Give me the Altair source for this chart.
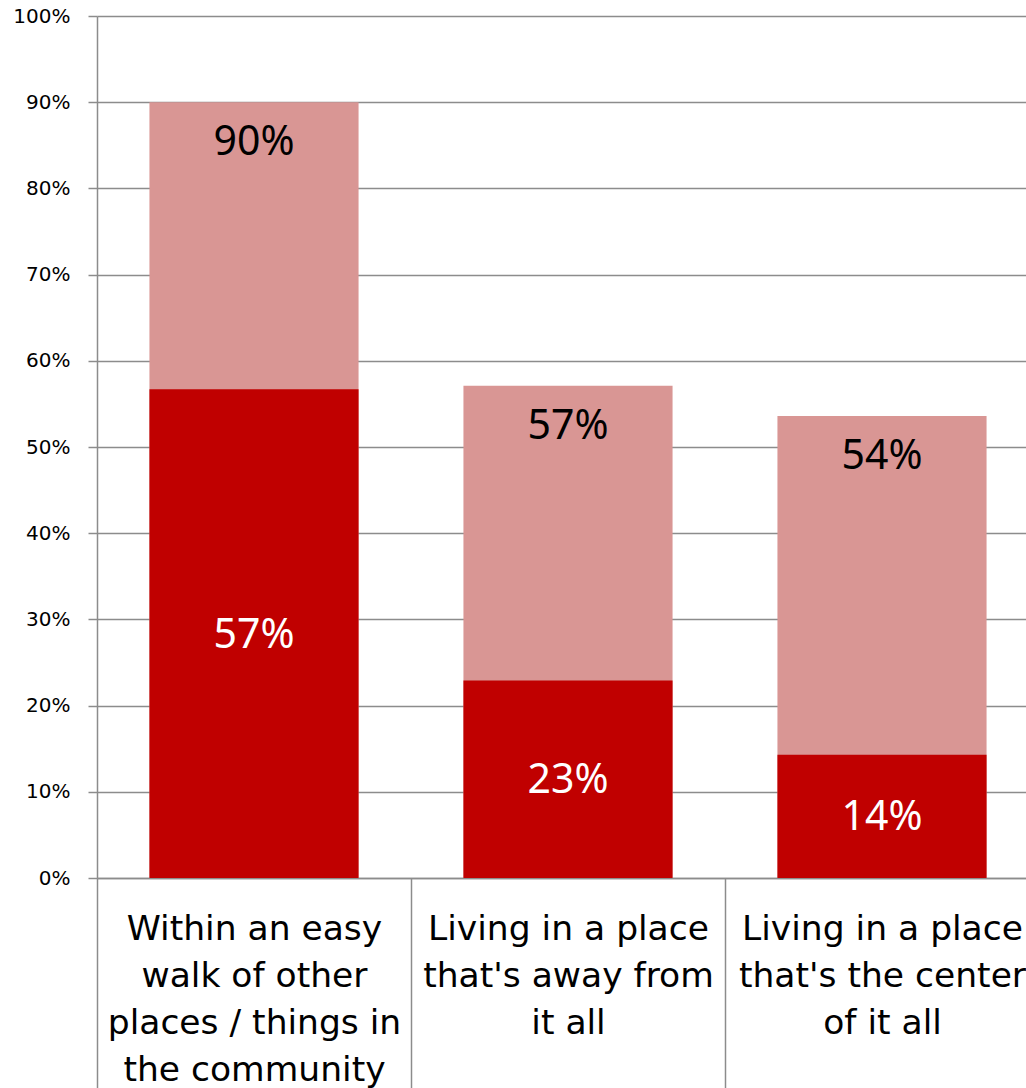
import altair as alt
import pandas as pd

category_lines = [
    ["Within an easy", "walk of other", "places / things in", "the community"],
    ["Living in a place", "that's away from", "it all"],
    ["Living in a place", "that's the center", "of it all"],
]
total_values = [0.900, 0.571, 0.536]
core_values = [0.567, 0.229, 0.143]
total_labels = ["90%", "57%", "54%"]
core_labels = ["57%", "23%", "14%"]

categories = ["|".join(lines) for lines in category_lines]
df = pd.DataFrame({
    "category": categories,
    "total": total_values,
    "core": core_values,
    "total_label": total_labels,
    "core_label": core_labels,
})
df["core_mid"] = df["core"] / 2

GRAY = "#8c8c8c"
FONT = "Noto Sans"

x = alt.X(
    "category:N",
    sort=categories,
    title=None,
    scale=alt.Scale(range=[0, 942], paddingInner=0, paddingOuter=0),
    axis=alt.Axis(
        labelExpr="split(datum.label, '|')",
        labelAngle=0,
        labelFont="DejaVu Sans",
        labelFontSize=34.5,
        labelColor="#000000",
        labelLineHeight=47,
        labelBaseline="top",
        labelPadding=-176,
        labelLimit=0,
        tickBand="extent",
        tickSize=210,
        tickColor=GRAY,
        tickWidth=1.5,
        domainColor=GRAY,
        domainWidth=1.5,
    ),
)

y_axis = alt.Axis(
    format=".0%",
    values=[i / 10 for i in range(11)],
    title=None,
    labelFont="DejaVu Sans",
    labelFontSize=20,
    labelColor="#000000",
    labelPadding=18,
    tickSize=9,
    tickColor=GRAY,
    tickWidth=1.5,
    domainColor=GRAY,
    domainWidth=1.5,
    gridColor=GRAY,
    gridWidth=1.5,
)

base = alt.Chart(df)
bar_width = alt.RelativeBandSize(0.666)

light = base.mark_bar(color="#D99694", width=bar_width).encode(
    x=x,
    y=alt.Y("total:Q", scale=alt.Scale(domain=[0, 1], nice=False), axis=y_axis),
)
dark = base.mark_bar(color="#C00000", width=bar_width).encode(x=x, y=alt.Y("core:Q"))

light_text = base.mark_text(
    font=FONT, fontSize=41, color="#000000", baseline="middle", dy=41
).encode(x=x, y=alt.Y("total:Q"), text="total_label:N")

dark_text = base.mark_text(
    font=FONT, fontSize=41, color="#FFFFFF", baseline="middle", dy=2
).encode(x=x, y=alt.Y("core_mid:Q"), text="core_label:N")

chart = (
    alt.layer(light, dark, light_text, dark_text)
    .properties(
        width=929,
        height=862,
        autosize=alt.AutoSizeParams(type="none"),
        padding={"left": 97, "top": 16, "right": 0, "bottom": 210},
    )
    .configure_view(strokeWidth=0)
)

chart.save("out.html", embed_options={"renderer": "svg", "actions": False})
